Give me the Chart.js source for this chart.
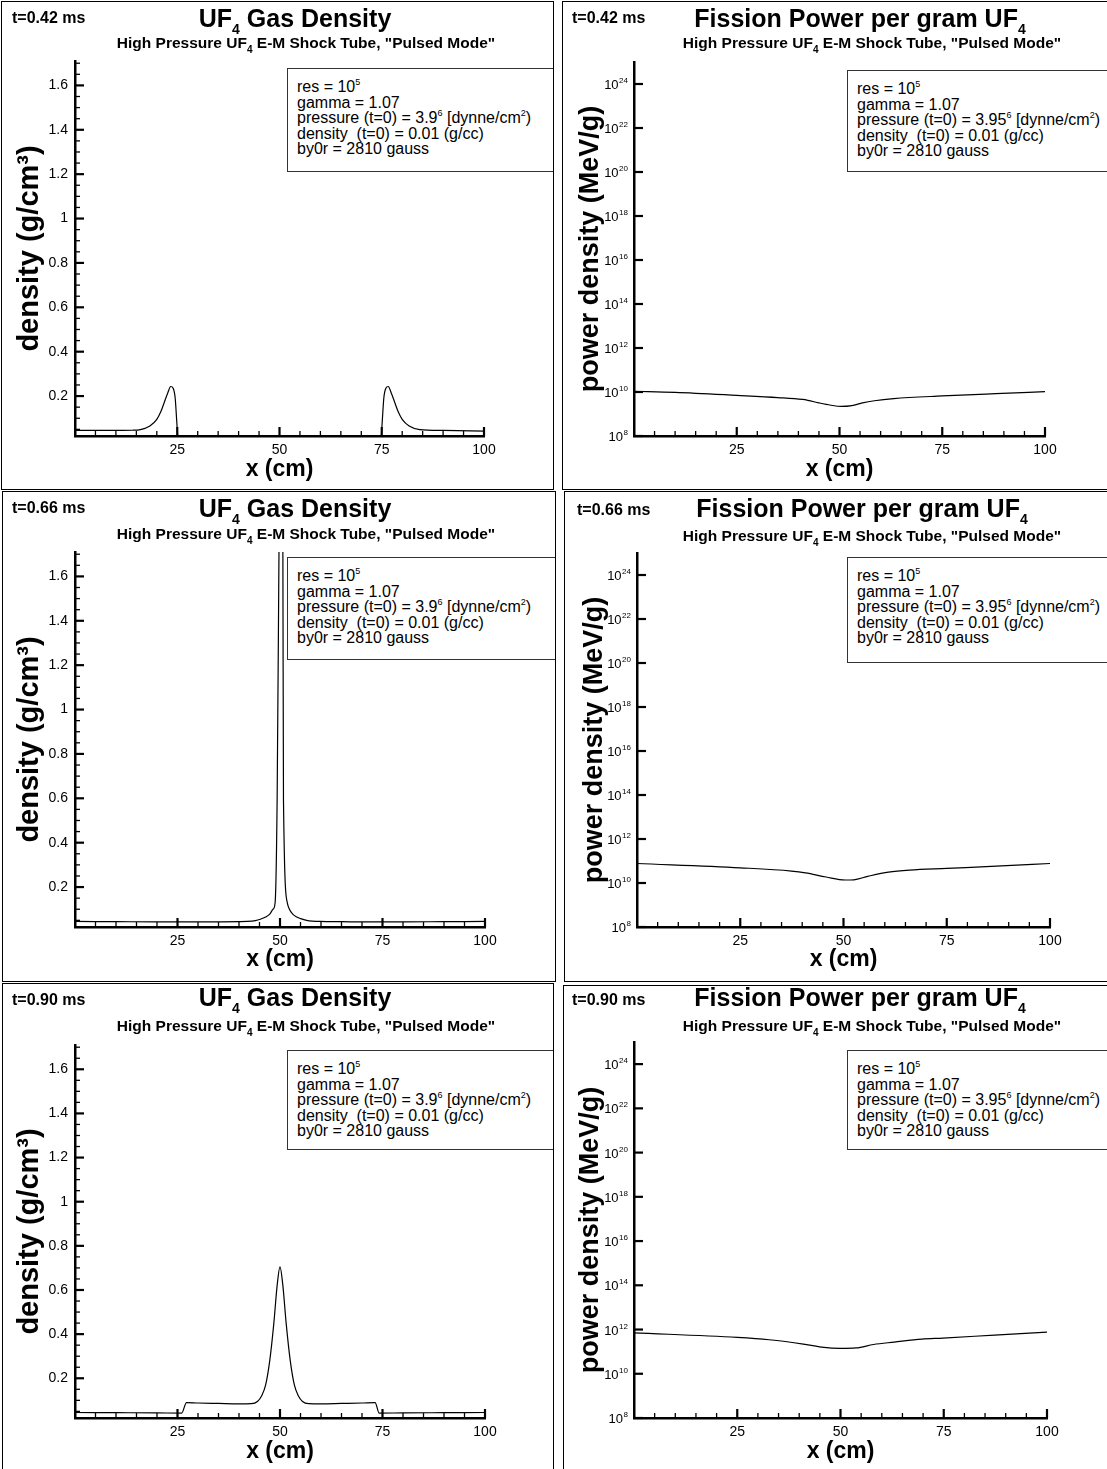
<!DOCTYPE html>
<html><head><meta charset="utf-8">
<script src="https://cdn.jsdelivr.net/npm/chart.js@4.4.1/dist/chart.umd.min.js"></script>
<style>
html,body{margin:0;padding:0;background:#fff}
body{width:1107px;height:1469px;position:relative;overflow:hidden;font-family:"Liberation Sans",Arial,sans-serif;color:#000}
.panel{position:absolute;overflow:hidden;background:#fff}
.panel canvas{position:absolute;left:0;top:0}
.frame{position:absolute;left:0;top:0;right:0;bottom:0;border:1px solid #000;pointer-events:none}
.tl{position:absolute;font-weight:bold;font-size:16px;line-height:16px;white-space:nowrap}
.ti{position:absolute;font-weight:bold;font-size:25px;line-height:25px;white-space:nowrap;transform:translateX(-50%)}
.ti .s{font-size:14px;line-height:0;position:relative;top:7px}
.st{position:absolute;font-weight:bold;font-size:15.5px;line-height:17px;white-space:nowrap;transform:translateX(-50%)}
.st .s{font-size:10px;line-height:0;position:relative;top:5px}
.box{position:absolute;border:1px solid #333;background:#fff;font-size:16px;line-height:15.5px;padding:10px 0 0 9px;box-sizing:border-box;white-space:nowrap}
.box .p{font-size:9px;line-height:0;position:relative;top:-7px}
</style></head><body>
<script>
// ---------------- data ----------------
const xMajorTicks = [25, 50, 75, 100];
const xMinorTicks = [5, 10, 15, 20, 30, 35, 40, 45, 55, 60, 65, 70, 80, 85, 90, 95];
const densityTicks = [0.2, 0.4, 0.6, 0.8, 1, 1.2, 1.4, 1.6];
const densityMinorTicks = [0.05, 0.1, 0.15, 0.25, 0.3, 0.35, 0.45, 0.5, 0.55, 0.65, 0.7, 0.75, 0.85, 0.9, 0.95,
  1.05, 1.1, 1.15, 1.25, 1.3, 1.35, 1.45, 1.5, 1.55, 1.65, 1.7];
const powerTicks = [1e8, 1e10, 1e12, 1e14, 1e16, 1e18, 1e20, 1e22, 1e24];
const timeLabels = ['t=0.42 ms', 't=0.66 ms', 't=0.90 ms'];

const densX_042 = [0, 8, 14, 16, 18.3, 20, 21, 21.8, 22.7, 23.4, 24.0, 24.5, 24.9, 25.2, 50, 74.8, 75.1, 75.5, 76.0, 76.6, 77.3, 78.2, 79, 80, 81.7, 84.3, 90, 100];
const densY_042 = [0.045, 0.045, 0.046, 0.049, 0.065, 0.095, 0.13, 0.17, 0.215, 0.243, 0.235, 0.19, 0.08, 0.01, 0.01, 0.01, 0.08, 0.19, 0.235, 0.243, 0.215, 0.17, 0.13, 0.095, 0.065, 0.049, 0.045, 0.042];

const densX_066 = [0, 10, 20, 30, 40, 42, 44, 45.2, 46.5, 47.5, 48.3, 48.8, 49.3, 49.75, 50.3, 50.7, 50.85, 51.8, 52.3, 53.1, 54.1, 55, 56.5, 59.7, 65, 70, 80, 90, 100];
const densY_066 = [0.045, 0.044, 0.043, 0.043, 0.044, 0.045, 0.049, 0.055, 0.065, 0.078, 0.1, 0.128, 0.59, 1.71, 3.0, 1.71, 0.59, 0.128, 0.1, 0.078, 0.065, 0.058, 0.05, 0.045, 0.044, 0.043, 0.043, 0.044, 0.045];

const densX_090 = [0, 10, 20, 26, 27.2, 30, 35, 40, 43, 44.5, 45.5, 46.5, 47.5, 48.5, 49.3, 50, 50.7, 51.5, 52.5, 53.5, 54.5, 55.5, 57, 60, 65, 70, 73.2, 74.2, 80, 90, 100];
const densY_090 = [0.045, 0.044, 0.043, 0.042, 0.09, 0.088, 0.086, 0.084, 0.085, 0.095, 0.12, 0.17, 0.28, 0.45, 0.62, 0.705, 0.62, 0.45, 0.28, 0.17, 0.12, 0.095, 0.085, 0.084, 0.086, 0.088, 0.09, 0.042, 0.043, 0.044, 0.045];

const powX_042 = [0, 10, 25, 35, 41, 42.3, 45, 47.9, 50.4, 53, 55.6, 58.5, 63.2, 75, 88, 100];
const powY_042 = [1.08e10, 9.6e9, 7.05e9, 5.6e9, 4.6e9, 4.2e9, 3.2e9, 2.5e9, 2.2e9, 2.4e9, 3.2e9, 4.0e9, 5.0e9, 6.6e9, 8.4e9, 1.03e10];

const powX_066 = [0, 25, 37.4, 40.8, 45.8, 50.4, 52.5, 55.9, 60.9, 66, 75, 87, 100];
const powY_066 = [7.7e10, 4.9e10, 3.5e10, 2.9e10, 1.87e10, 1.37e10, 1.4e10, 2.0e10, 3.1e10, 3.85e10, 4.6e10, 5.8e10, 7.7e10];

const powX_090 = [0, 25, 32.7, 41, 45.4, 50, 53.8, 58, 63, 69.7, 74.8, 87.3, 100];
const powY_090 = [7.1e11, 4.4e11, 3.45e11, 2.2e11, 1.6e11, 1.4e11, 1.47e11, 2.1e11, 2.7e11, 3.7e11, 4.1e11, 5.6e11, 7.6e11];

// ---------------- layout ----------------
const panels = [
  {kind:'density', t:0, xs:densX_042, ys:densY_042, L:1, T:1, W:553, H:489, plot:{l:75,t:61,r:484,b:436}, tlY:18, tlX:12, ti:{x:295,y:18}, st:{x:306,y:42}, box:{x:287,y:68,h:104}, ytX:30, xtY:470},
  {kind:'power', t:0, xs:powX_042, ys:powY_042, L:562, T:1, W:560, H:489, plot:{l:634,t:62,r:1045,b:436}, tlY:18, tlX:572, ti:{x:860,y:18}, st:{x:872,y:42}, box:{x:847,y:70,h:102}, ytX:591, xtY:470},
  {kind:'density', t:1, xs:densX_066, ys:densY_066, L:2, T:491, W:554, H:491, plot:{l:75,t:552,r:485,b:927}, tlY:508, tlX:12, ti:{x:295,y:508}, st:{x:306,y:533}, box:{x:287,y:557,h:103}, ytX:30, xtY:960},
  {kind:'power', t:1, xs:powX_066, ys:powY_066, L:564, T:491, W:560, H:491, plot:{l:637,t:553,r:1050,b:927}, tlY:510, tlX:577, ti:{x:862,y:508}, st:{x:872,y:535}, box:{x:847,y:557,h:106}, ytX:595, xtY:960},
  {kind:'density', t:2, xs:densX_090, ys:densY_090, L:2, T:983, W:552, H:500, plot:{l:75,t:1045,r:485,b:1418}, tlY:1000, tlX:12, ti:{x:295,y:997}, st:{x:306,y:1025}, box:{x:287,y:1050,h:100}, ytX:30, xtY:1452},
  {kind:'power', t:2, xs:powX_090, ys:powY_090, L:563, T:985, W:560, H:500, plot:{l:634,t:1042,r:1047,b:1418}, tlY:1000, tlX:572, ti:{x:860,y:997}, st:{x:872,y:1025}, box:{x:847,y:1050,h:100}, ytX:591, xtY:1452}
];

const FONT = 'Liberation Sans';

const innerTicks = {
  id: 'innerTicks',
  afterDraw(chart) {
    const c = chart.ctx, a = chart.chartArea, xs = chart.scales.x, ys = chart.scales.y;
    const isLog = ys.type === 'logarithmic';
    c.save(); c.strokeStyle = '#000'; c.lineCap = 'butt';
    const seg = (x1, y1, x2, y2, w) => { c.lineWidth = w; c.beginPath(); c.moveTo(x1, y1); c.lineTo(x2, y2); c.stroke(); };
    xMajorTicks.forEach(v => { const px = xs.getPixelForValue(v); seg(px, a.bottom, px, a.bottom - 9, 2.2); });
    xMinorTicks.forEach(v => { const px = xs.getPixelForValue(v); seg(px, a.bottom, px, a.bottom - 5, 1.3); });
    (isLog ? powerTicks : densityTicks).forEach(v => { const py = ys.getPixelForValue(v); seg(a.left, py, a.left + 9, py, 2.2); });
    if (!isLog) densityMinorTicks.forEach(v => { const py = ys.getPixelForValue(v); seg(a.left, py, a.left + 5, py, 1.3); });
    if (isLog) {
      c.fillStyle = '#000'; c.textAlign = 'right'; c.textBaseline = 'alphabetic';
      powerTicks.forEach(v => {
        const py = ys.getPixelForValue(v);
        const e = String(Math.round(Math.log10(v)));
        c.font = '8px "' + FONT + '"';
        const ew = c.measureText(e).width;
        c.fillText(e, a.left - 6, py - 1);
        c.font = '13px "' + FONT + '"';
        c.fillText('10', a.left - 6 - ew - 0.5, py + 5);
      });
    }
    c.restore();
  }
};

function fmt(v) { return String(+Number(v).toFixed(3)); }

function build(p) {
  const div = document.createElement('div');
  div.className = 'panel';
  Object.assign(div.style, {left: p.L + 'px', top: p.T + 'px', width: p.W + 'px', height: p.H + 'px'});
  document.body.appendChild(div);
  const cv = document.createElement('canvas');
  cv.width = p.W; cv.height = p.H; cv.style.width = p.W + 'px'; cv.style.height = p.H + 'px';
  div.appendChild(cv);

  const isLog = p.kind === 'power';
  const tl = document.createElement('div'); tl.className = 'tl';
  tl.style.left = (p.tlX - p.L) + 'px'; tl.style.top = (p.tlY - p.T - 8) + 'px';
  tl.textContent = timeLabels[p.t]; div.appendChild(tl);

  const ti = document.createElement('div'); ti.className = 'ti';
  ti.style.left = (p.ti.x - p.L) + 'px'; ti.style.top = (p.ti.y - p.T - 12.5) + 'px';
  ti.innerHTML = isLog ? 'Fission Power per gram UF<span class="s">4</span>' : 'UF<span class="s">4</span> Gas Density';
  div.appendChild(ti);

  const st = document.createElement('div'); st.className = 'st';
  st.style.left = (p.st.x - p.L) + 'px'; st.style.top = (p.st.y - p.T - 8.5) + 'px';
  st.innerHTML = 'High Pressure UF<span class="s">4</span> E-M Shock Tube, "Pulsed Mode"';
  div.appendChild(st);

  const bx = document.createElement('div'); bx.className = 'box';
  Object.assign(bx.style, {left: (p.box.x - p.L) + 'px', top: (p.box.y - p.T) + 'px', width: Math.max(p.W - (p.box.x - p.L), 10) + 'px', height: p.box.h + 'px'});
  bx.innerHTML = 'res = 10<span class="p">5</span><br>gamma = 1.07<br>pressure (t=0) = ' + (isLog ? '3.95' : '3.9') +
    '<span class="p">6</span> [dynne/cm<span class="p">2</span>)<br>density&nbsp; (t=0) = 0.01 (g/cc)<br>by0r = 2810 gauss';
  div.appendChild(bx);

  const fr = document.createElement('div'); fr.className = 'frame'; div.appendChild(fr);

  const pl = p.plot.l - p.L, pt = p.plot.t - p.T, pr = p.plot.r - p.L, pb = p.plot.b - p.T;
  const yTitleSize = isLog ? 27 : 29;
  new Chart(cv, {
    type: 'line',
    data: {datasets: [{
      data: p.xs.map((x, i) => ({x: x, y: p.ys[i]})),
      borderColor: '#000', borderWidth: 1.2, pointRadius: 0, fill: false,
      cubicInterpolationMode: 'monotone'
    }]},
    options: {
      responsive: false, animation: false, devicePixelRatio: 1,
      layout: {padding: {left: 0, top: pt, right: p.W - pr, bottom: 0}},
      plugins: {legend: {display: false}, tooltip: {enabled: false}, title: {display: false}},
      scales: {
        x: {
          type: 'linear', min: 0, max: 100,
          afterFit: s => { s.height = p.H - pb; },
          afterBuildTicks: s => { s.ticks = xMajorTicks.map(v => ({value: v})); },
          grid: {display: false, drawTicks: false, tickLength: 0},
          border: {display: true, color: '#000', width: 2.5},
          ticks: {color: '#000', padding: 6, maxRotation: 0, autoSkip: false, font: {family: FONT, size: 14}, callback: v => fmt(v)},
          title: {display: true, text: 'x (cm)', color: '#000', font: {family: FONT, size: 23, weight: 'bold', lineHeight: 1},
                  padding: {top: 0, bottom: p.H - 11.5 - (p.xtY - p.T)}}
        },
        y: {
          type: isLog ? 'logarithmic' : 'linear',
          min: isLog ? 1e8 : 0.02, max: isLog ? 1e25 : 1.71,
          afterFit: s => { s.width = pl; },
          afterBuildTicks: s => { s.ticks = (isLog ? powerTicks : densityTicks).map(v => ({value: v})); },
          grid: {display: false, drawTicks: false, tickLength: 0},
          border: {display: true, color: '#000', width: 2.5},
          ticks: {display: !isLog, color: '#000', padding: 7, autoSkip: false, font: {family: FONT, size: 14}, callback: v => fmt(v)},
          title: {display: true, text: isLog ? 'power density (MeV/g)' : 'density (g/cm³)', color: '#000',
                  font: {family: FONT, size: yTitleSize, weight: 'bold', lineHeight: 1},
                  padding: {top: (p.ytX - p.L) - yTitleSize / 2, bottom: 0}}
        }
      }
    },
    plugins: [innerTicks]
  });
}

panels.forEach(build);
</script>
</body></html>
